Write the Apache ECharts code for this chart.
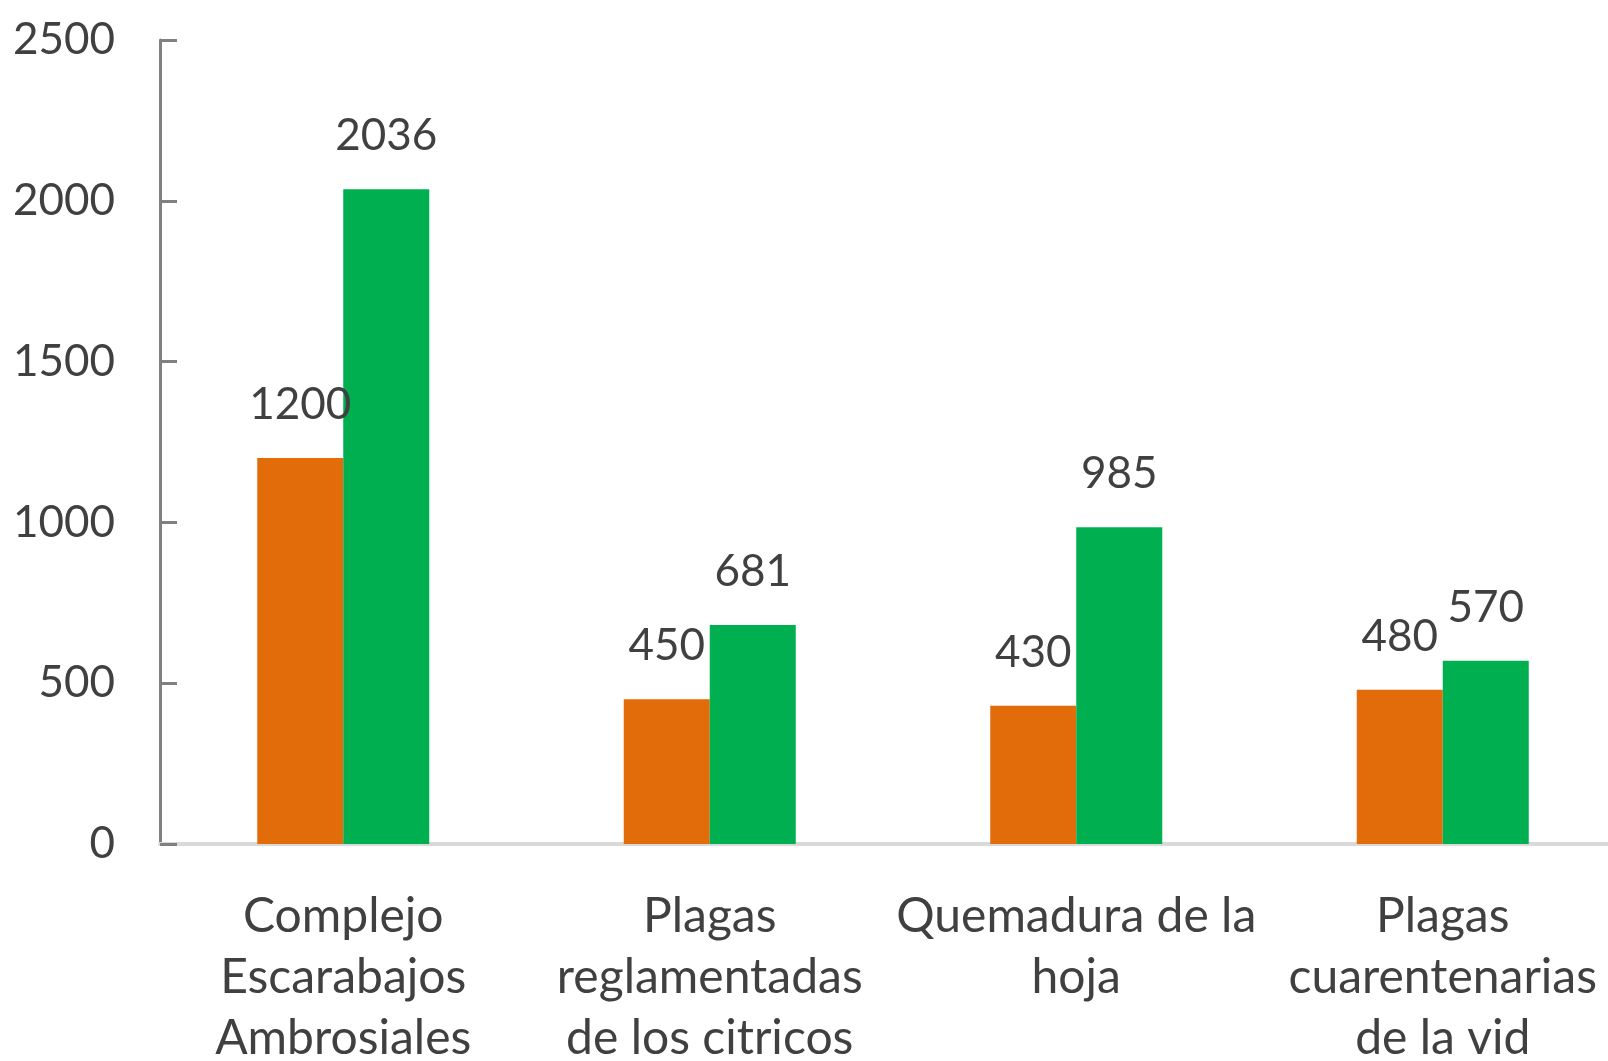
<!DOCTYPE html>
<html>

<head>
    <meta charset="utf-8">
    <script src="https://cdn.jsdelivr.net/npm/echarts@6/dist/echarts.min.js"></script>
    <style>
        html, body { margin: 0; background: #fff; overflow: hidden; }
    </style>
</head>

<body>
    <!-- the plot runs a little past the right edge of the picture, so the chart div is wider than its frame -->
    <div style="width:1608px; height:1061px; overflow:hidden; position:relative;">
        <div id="chart" style="width:1630px; height:1061px; position:absolute; left:0; top:0;"></div>
    </div>
</body>

<script type="text/javascript">
    var categories = [
        'Complejo\nEscarabajos\nAmbrosiales',
        'Plagas\nreglamentadas\nde los citricos',
        'Quemadura de la\nhoja',
        'Plagas\ncuarentenarias\nde la vid'
    ];
    var serie1 = [1200, 450, 430, 480];
    var serie2 = [2036, 681, 985, 570];
    var yTicks = [0, 500, 1000, 1500, 2000, 2500];

    var textColor = '#404040';
    var font = 'Lato, "Liberation Sans", sans-serif';

    option = {
        animation: false,
        grid: {
            left: 160,
            top: 40,
            width: 1466,
            bottom: 217,
            containLabel: false,
            outerBoundsMode: 'none'
        },
        xAxis: {
            type: 'category',
            data: categories,
            axisTick: { show: false },
            axisLine: {
                lineStyle: { color: '#d9d9d9', width: 4 }
            },
            axisLabel: {
                interval: 0,
                margin: 42,
                fontSize: 48,
                lineHeight: 61,
                fontFamily: font,
                color: textColor
            }
        },
        yAxis: {
            type: 'value',
            min: yTicks[0],
            max: yTicks[yTicks.length - 1],
            interval: 500,
            splitLine: { show: false },
            axisLine: {
                show: true,
                lineStyle: { color: '#808080', width: 3 }
            },
            axisTick: {
                show: true,
                inside: true,
                length: 17,
                lineStyle: { color: '#808080', width: 3 }
            },
            axisLabel: {
                margin: 45,
                fontSize: 44,
                fontFamily: font,
                color: textColor,
                formatter: function (v) { return String(v); }
            }
        },
        series: [
            {
                name: 'Serie 1',
                type: 'bar',
                barWidth: 86,
                barGap: '0%',
                itemStyle: { color: '#e26b0a' },
                label: {
                    show: true,
                    position: 'top',
                    distance: 31,
                    fontSize: 44,
                    fontFamily: font,
                    color: textColor
                },
                data: serie1
            },
            {
                name: 'Serie 2',
                type: 'bar',
                barWidth: 86,
                barGap: '0%',
                itemStyle: { color: '#00b050' },
                label: {
                    show: true,
                    position: 'top',
                    distance: 31,
                    fontSize: 44,
                    fontFamily: font,
                    color: textColor
                },
                data: serie2
            }
        ]
    };

    var chart = echarts.init(document.getElementById('chart'));
    chart.setOption(option);
</script>

</html>
